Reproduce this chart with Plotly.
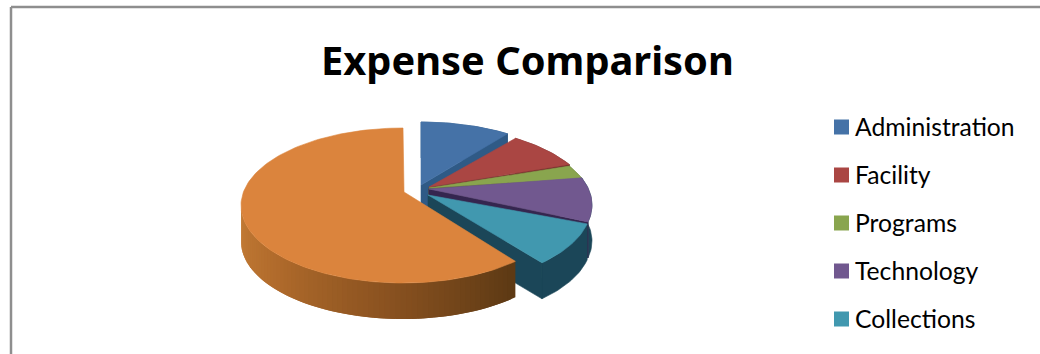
import math
import plotly.graph_objects as go

# Budget shares, percent of total expenses
categories = ["Administration", "Facility", "Programs", "Technology", "Collections", "Other"]
shares = [8.9, 7.6, 2.8, 9.2, 9.3, 62.2]

top_colors = ["#4572A7", "#AA4643", "#89A54E", "#71588F", "#4198AF", "#DB843D"]
cut_colors = ["#2F5A86", "#6E2C2C", "#4E6430", "#35264F", "#1B4658", None]
rim_colors = ["#2F5A86", "#6E2C2C", "#4E6430", "#1B4658", "#1B4658", None]

# Tilted-pie projection: vertical radius and wall height
RY, DEPTH = 77.5, 36
# Per-slice placement (rim centre x, rim centre y, apex x, apex y, horizontal radius);
# slices are pulled apart from the middle
placement = [
    (421, 199.5, 421, 185, 163),
    (429, 204.0, 429, 187, 163),
    (429, 205.5, 429, 188, 163),
    (429, 205.0, 429, 189, 163),
    (431, 207.0, 428, 195, 160),
    (403, 205.5, 404, 192, 162),
]
ORANGE_RAMP = [(0.0, "#5D3A14"), (0.35, "#8A5220"), (0.7, "#B26C2C"), (1.0, "#C67E38")]


def rim(cx, cy, rx, deg):
    t = math.radians(deg)
    return cx + rx * math.sin(t), cy - RY * math.cos(t)


def arc(cx, cy, rx, a0, a1):
    n = max(2, int(abs(a1 - a0) / 1.5) + 1)
    return [rim(cx, cy, rx, a0 + (a1 - a0) * i / n) for i in range(n + 1)]


def ramp_color(t):
    for (t0, c0), (t1, c1) in zip(ORANGE_RAMP, ORANGE_RAMP[1:]):
        if t <= t1:
            f = (t - t0) / (t1 - t0)
            rgb = [
                round(int(c0[i:i + 2], 16) * (1 - f) + int(c1[i:i + 2], 16) * f)
                for i in (1, 3, 5)
            ]
            return "rgb({},{},{})".format(*rgb)
    return ORANGE_RAMP[-1][1]


def polygon(points, color, name=None, text=None, edge=0.6):
    xs = [p[0] for p in points] + [points[0][0]]
    ys = [p[1] for p in points] + [points[0][1]]
    return go.Scatter(
        x=xs, y=ys, mode="lines", fill="toself", fillcolor=color,
        line=dict(color=color, width=edge), name=name or "",
        text=text, hoverinfo="text" if text else "skip", showlegend=False,
    )


fig = go.Figure()

start = 0.0
for name, share, top, cut, outer, (cx, cy, ax, ay, rx) in zip(
    categories, shares, top_colors, cut_colors, rim_colors, placement
):
    end = start + share / sum(shares) * 360
    apex = (ax, ay)
    rim_pts = arc(cx, cy, rx, start, end)

    if cut:
        # Outer wall, then the cut face on the clockwise side
        lower = [(x, y + DEPTH) for x, y in reversed(rim_pts)]
        fig.add_trace(polygon(rim_pts + lower, outer))
        ex, ey = rim_pts[-1]
        fig.add_trace(polygon(
            [apex, (ex, ey), (ex, ey + DEPTH), (ax, ay + DEPTH)], cut))
    else:
        # Outer wall of the large slice: overlapping strips, darkest at the cut end
        wall_end = min(end, 272)
        strips = 70
        step = (wall_end - start) / strips
        for i in range(strips):
            a0 = wall_end - step * (i + 1)
            a1 = wall_end - step * i + step
            upper = arc(cx, cy, rx, a0, min(a1, wall_end))
            lower = [(x, y + DEPTH) for x, y in reversed(upper)]
            t = 1 - (i + 0.5) / strips
            fig.add_trace(polygon(upper + lower, ramp_color(t), edge=0))

    fig.add_trace(polygon([apex] + rim_pts, top, name, f"{name}: {share}%"))
    start = end

shapes = [
    # Chart frame: top and left edges
    dict(type="line", xref="x", yref="y", x0=11, x1=1040, y0=7, y1=7,
         line=dict(color="#8E8E8E", width=2.5)),
    dict(type="line", xref="x", yref="y", x0=11, x1=11, y0=7, y1=354,
         line=dict(color="#8E8E8E", width=2.5)),
]
annotations = [
    dict(x=527.5, y=59, xref="x", yref="y", text="<b>Expense Comparison</b>",
         showarrow=False, xanchor="center", yanchor="middle",
         font=dict(family="Noto Sans", size=39.8, color="#000000")),
]

# Legend rows, five visible entries
for i, (name, color) in enumerate(zip(categories[:5], top_colors)):
    y = 127 + 48 * i
    shapes.append(dict(type="rect", xref="x", yref="y", x0=834, x1=849,
                       y0=y - 7.5, y1=y + 7.5, fillcolor=color,
                       line=dict(width=0)))
    annotations.append(dict(x=853, y=y - 1, xref="x", yref="y", text=name,
                            showarrow=False, xanchor="left", yanchor="middle",
                            font=dict(family="Lato", size=24.7, color="#000000")))

fig.update_layout(
    width=1040, height=354, margin=dict(l=0, r=0, t=0, b=0),
    paper_bgcolor="#FFFFFF", plot_bgcolor="#FFFFFF", showlegend=False,
    shapes=shapes, annotations=annotations,
    xaxis=dict(range=[0, 1040], visible=False, fixedrange=True),
    yaxis=dict(range=[354, 0], visible=False, fixedrange=True),
)
fig.write_html("out.html", config=dict(displayModeBar=False))
